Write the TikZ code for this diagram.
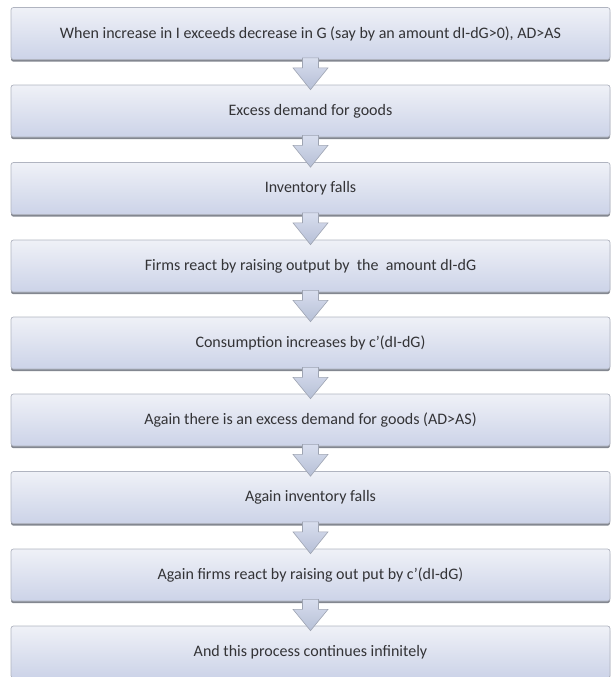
\documentclass[tikz,border=0pt]{standalone}
\usepackage{fontspec}
\setmainfont{Carlito}
\usetikzlibrary{calc,shadows}
\definecolor{boxtop}{HTML}{EFF1F7}
\definecolor{boxbot}{HTML}{CCD3E8}
\definecolor{boxline}{HTML}{B0B4C0}
\definecolor{shadowc}{HTML}{767A84}
\definecolor{txt}{HTML}{333336}
\definecolor{arrtop}{HTML}{D8DEEE}
\definecolor{arrbot}{HTML}{B6BFD6}
\definecolor{arrline}{HTML}{9EA4B2}
\tikzset{
  stepbox/.style={rectangle, rounded corners=2.5pt, draw=boxline, line width=0.7pt,
    top color=boxtop, bottom color=boxbot,
    minimum width=599pt, minimum height=52pt, inner sep=0pt,
    text=txt, font=\fontsize{16}{19}\selectfont,
    drop shadow={shadow xshift=0pt, shadow yshift=-2.2pt, fill=shadowc, opacity=0.9}},
  blockarrow/.style={draw=arrline, line width=0.6pt, top color=arrtop, bottom color=arrbot}
}
\begin{document}
\begin{tikzpicture}[x=1pt,y=-1pt]
\useasboundingbox (0,0) rectangle (611,677);
\node[stepbox] (b1) at (310.5,33.5) {When increase in I exceeds decrease in G (say by an amount dI-dG>0), AD>AS};
\node[stepbox] (b2) at (310.5,111) {Excess demand for goods};
\node[stepbox] (b3) at (310.5,188.5) {Inventory falls};
\node[stepbox] (b4) at (310.5,266) {Firms react by raising output by \ the \ amount dI-dG};
\node[stepbox] (b5) at (310.5,343) {Consumption increases by c'(dI-dG)};
\node[stepbox] (b6) at (310.5,420) {Again there is an excess demand for goods (AD>AS)};
\node[stepbox] (b7) at (310.5,497.5) {Again inventory falls};
\node[stepbox] (b8) at (310.5,575) {Again firms react by raising out put by c'(dI-dG)};
\node[stepbox] (b9) at (310.5,652) {And this process continues infinitely};
\foreach \a/\b in {b1/b2,b2/b3,b3/b4,b4/b5,b5/b6,b6/b7,b7/b8,b8/b9}{
  \path[blockarrow] let \p1=(\a.south), \p2=(\b.north) in
    (\x1-8pt,\y1+2pt) -- (\x1-8pt,\y1-8pt) -- (\x1-17.5pt,\y1-8pt) -- (\x1,\y2-5pt)
    -- (\x1+17.5pt,\y1-8pt) -- (\x1+8pt,\y1-8pt) -- (\x1+8pt,\y1+2pt) -- cycle;
}
\end{tikzpicture}
\end{document}
